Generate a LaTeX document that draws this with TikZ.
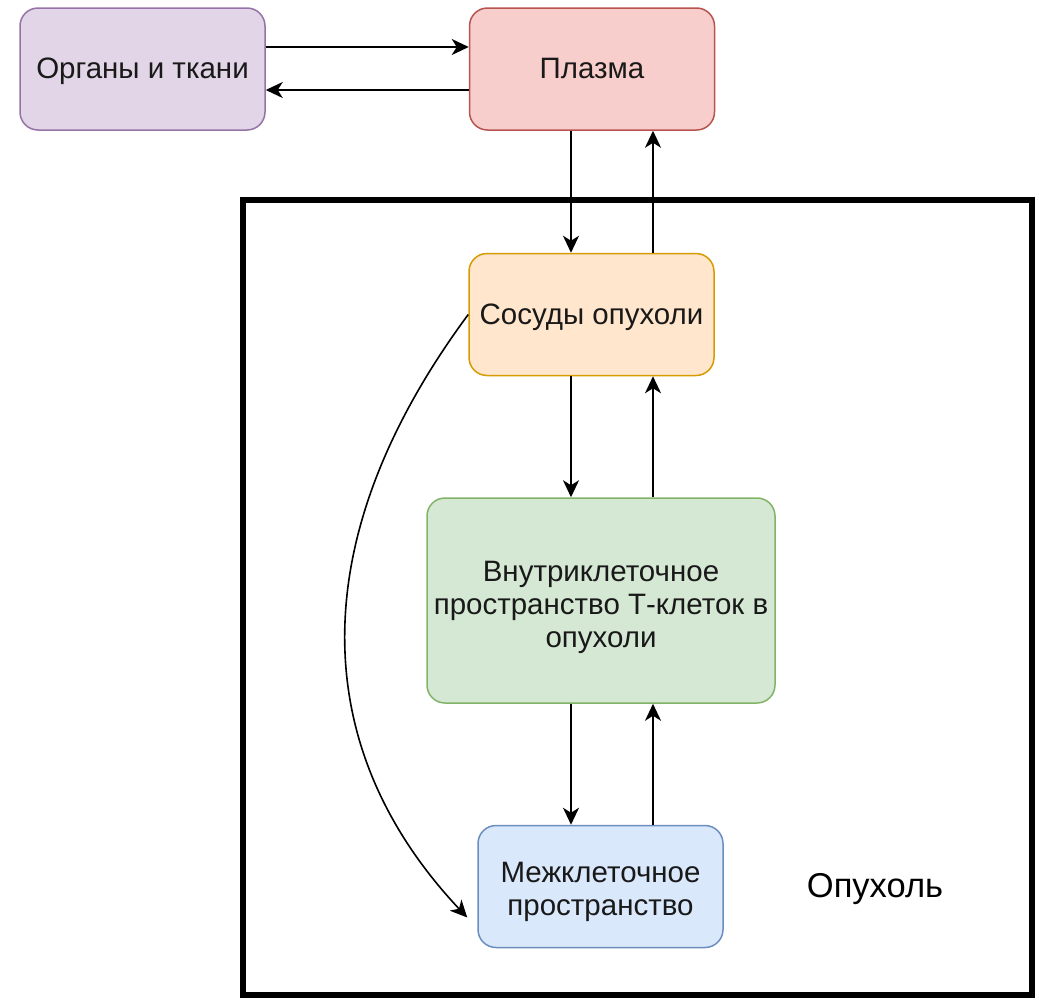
\documentclass[tikz,border=0pt]{standalone}
\usepackage{fontspec}
\setmainfont{Liberation Sans}
\usetikzlibrary{arrows.meta,positioning,calc}

\definecolor{orgfill}{HTML}{E1D5E7}
\definecolor{orgdraw}{HTML}{9673A6}
\definecolor{plfill}{HTML}{F8CECC}
\definecolor{pldraw}{HTML}{B85450}
\definecolor{vesfill}{HTML}{FFE6CC}
\definecolor{vesdraw}{HTML}{D79B00}
\definecolor{cellfill}{HTML}{D5E8D4}
\definecolor{celldraw}{HTML}{82B366}
\definecolor{intfill}{HTML}{DAE8FC}
\definecolor{intdraw}{HTML}{6C8EBF}

\newcommand{\boxtext}[2][-3pt]{\raisebox{#1}[\height][\depth]{\begin{tabular}{@{}c@{}}#2\end{tabular}}}

\tikzset{
	box/.style={rounded corners=18pt, line width=1.5pt, minimum width=245pt, minimum height=122pt,
		inner sep=4pt, align=center, font=\fontsize{29.5}{33}\selectfont, text=black!90},
	arr/.style={line width=1.9pt, -{Stealth[length=17pt,width=16pt,inset=5pt]}}
}

\begin{document}
\begin{tikzpicture}[x=1pt,y=-1pt]
		\useasboundingbox (0,0) rectangle (1039,999);
		% tumour frame
		\draw[line width=6pt] (243,200) rectangle (1032,995);
		\node (tumour) at (875,889) {\fontsize{34.5}{38}\selectfont Опухоль};

		\node[box, fill=orgfill, draw=orgdraw] (organs) at (142.5,69) {\boxtext{Органы и ткани}};
		\node[box, fill=plfill, draw=pldraw] (plasma) at (592,69) {\boxtext{Плазма}};
		\node[box, fill=vesfill, draw=vesdraw] (vessels) at (591.5,314.5) {\boxtext{Сосуды опухоли}};
		\node[box, fill=cellfill, draw=celldraw, minimum width=348pt, minimum height=205pt] (cells) at (601,600.5)
			{\boxtext[-7pt]{Внутриклеточное\\пространство Т-клеток в\\опухоли}};
		\node[box, fill=intfill, draw=intdraw] (inter) at (600.5,886.5) {\boxtext[-6pt]{Межклеточное\\пространство}};

		\coordinate (dn) at (571,0);
		\coordinate (up) at (653,0);
		\coordinate (hi) at (0,47);
		\coordinate (lo) at (0,90);

		\draw[arr] (organs.east |- hi) -- (plasma.west |- hi);
		\draw[arr] (plasma.west |- lo) -- (organs.east |- lo);
		\draw[arr] (plasma.south -| dn) -- (vessels.north -| dn);
		\draw[arr] (vessels.north -| up) -- (plasma.south -| up);
		\draw[arr] (vessels.south -| dn) -- (cells.north -| dn);
		\draw[arr] (cells.north -| up) -- (vessels.south -| up);
		\draw[arr] (cells.south -| dn) -- (inter.north -| dn);
		\draw[arr] (inter.north -| up) -- (cells.south -| up);
		\draw[arr, line width=1.6pt] (vessels.west) .. controls (305,535) and (305,745) .. ([xshift=-10pt,yshift=-31pt]inter.west);
	\end{tikzpicture}
\end{document}
